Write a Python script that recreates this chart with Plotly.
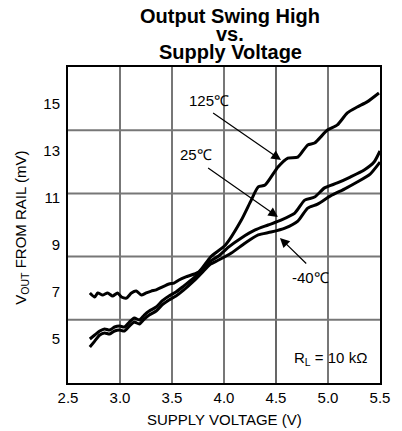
import plotly.graph_objects as go

# ---- data ----
v_125 = [2.71, 2.757, 2.786, 2.833, 2.881, 2.929, 2.976, 3.014, 3.062, 3.110, 3.157, 3.205, 3.252,
         3.300, 3.348, 3.405, 3.471, 3.519, 3.567, 3.633, 3.757, 3.871, 4.014, 4.167, 4.262, 4.329,
         4.395, 4.519, 4.614, 4.710, 4.805, 4.871, 4.995, 5.090, 5.186, 5.281, 5.376, 5.490]
mv_125 = [6.96, 6.79, 6.96, 6.87, 6.96, 6.83, 6.96, 6.79, 6.74, 6.96, 7.04, 6.87, 6.96,
          7.04, 7.09, 7.21, 7.34, 7.38, 7.51, 7.64, 7.85, 8.49, 9.00, 10.06, 10.91, 11.47,
          11.55, 12.32, 12.70, 12.74, 13.26, 13.34, 13.89, 14.11, 14.62, 14.87, 15.09, 15.47]

v_25 = [2.71, 2.757, 2.805, 2.852, 2.900, 2.948, 2.995, 3.043, 3.090, 3.138, 3.186, 3.233, 3.281,
        3.348, 3.405, 3.471, 3.538, 3.614, 3.710, 3.786, 3.871, 3.948, 4.043, 4.167, 4.300, 4.424,
        4.548, 4.681, 4.776, 4.871, 4.967, 5.090, 5.214, 5.348, 5.443, 5.500]
mv_25 = [5.00, 5.17, 5.34, 5.43, 5.38, 5.51, 5.55, 5.51, 5.72, 5.89, 5.81, 6.02, 6.19,
         6.36, 6.62, 6.83, 7.00, 7.26, 7.60, 7.94, 8.32, 8.53, 8.91, 9.30, 9.64, 9.85,
         10.06, 10.36, 10.91, 11.04, 11.43, 11.64, 11.89, 12.19, 12.53, 13.00]

v_m40 = [2.71, 2.757, 2.805, 2.852, 2.900, 2.948, 2.995, 3.043, 3.090, 3.138, 3.186, 3.233, 3.281,
         3.348, 3.405, 3.471, 3.538, 3.614, 3.710, 3.786, 3.871, 3.948, 4.071, 4.205, 4.329, 4.452,
         4.586, 4.710, 4.805, 4.900, 5.024, 5.157, 5.281, 5.405, 5.500]
mv_m40 = [4.66, 4.91, 5.17, 5.26, 5.21, 5.34, 5.38, 5.34, 5.55, 5.72, 5.64, 5.85, 6.02,
          6.19, 6.45, 6.66, 6.83, 7.09, 7.47, 7.81, 8.19, 8.36, 8.66, 9.09, 9.43, 9.55,
          9.72, 10.02, 10.57, 10.74, 11.09, 11.38, 11.68, 12.02, 12.53]

x_ticks = [2.5, 3.0, 3.5, 4.0, 4.5, 5.0, 5.5]
x_tick_text = ["2.5", "3.0", "3.5", "4.0", "4.5", "5.0", "5.5"]
y_ticks = [5, 7, 9, 11, 13, 15]
y_grid_fracs = [0.2, 0.4, 0.6, 0.8]

FONT = "Arial, Liberation Sans, Helvetica, sans-serif"

fig = go.Figure()
for xs, ys, nm in [(v_125, mv_125, "125"), (v_25, mv_25, "25"), (v_m40, mv_m40, "-40")]:
    fig.add_trace(go.Scatter(x=xs, y=ys, mode="lines", name=nm,
                             line=dict(color="black", width=3, shape="spline", smoothing=0.6),
                             showlegend=False, hoverinfo="skip"))

shapes = []
# vertical grid lines
for xv in x_ticks[1:-1]:
    if xv == 4.5:
        shapes.append(dict(type="line", xref="x", yref="y domain", x0=xv, x1=xv, y0=0, y1=1,
                           line=dict(color="black", width=1.2), layer="below"))
    else:
        shapes.append(dict(type="line", xref="x", yref="y domain", x0=xv, x1=xv, y0=0, y1=1,
                           line=dict(color="#777777", width=2), layer="below"))
# horizontal grid lines (evenly dividing the frame)
for f in y_grid_fracs:
    shapes.append(dict(type="line", xref="x domain", yref="y domain", x0=0, x1=1, y0=f, y1=f,
                       line=dict(color="#777777", width=2), layer="below"))

ann = []
title_lines = [("Output Swing High", 1.160), ("vs.", 1.106), ("Supply Voltage", 1.047)]
for t, yy in title_lines:
    ann.append(dict(text="<b>%s</b>" % t, xref="paper", yref="paper", x=0.52, y=yy,
                    xanchor="center", yanchor="middle", showarrow=False,
                    font=dict(family=FONT, size=20, color="black")))

# axis titles
ann.append(dict(text="SUPPLY VOLTAGE (V)", xref="paper", yref="paper", x=0.5, y=-0.114,
                xanchor="center", yanchor="middle", showarrow=False,
                font=dict(family=FONT, size=15, color="black")))
ann.append(dict(text="V<sub>OUT</sub> FROM RAIL (mV)", xref="paper", yref="paper", x=-0.149, y=0.49,
                xanchor="center", yanchor="middle", showarrow=False, textangle=-90,
                font=dict(family=FONT, size=15, color="black")))

# curve labels
lab_font = dict(family=FONT, size=15, color="black")
ann.append(dict(text="125℃", x=3.852, y=15.13, xref="x", yref="y", showarrow=False, font=lab_font))
ann.append(dict(text="25℃", x=3.729, y=12.83, xref="x", yref="y", showarrow=False, font=lab_font))
ann.append(dict(text="-40℃", x=4.833, y=7.60, xref="x", yref="y", showarrow=False, font=lab_font))
ann.append(dict(text="R<sub>L</sub> = 10 kΩ", x=5.395, y=4.15, xref="x", yref="y", xanchor="right",
                showarrow=False, font=lab_font))

# arrows (tail -> tip)
arrows = [((3.881, 14.66), (4.548, 12.62)),
          ((3.833, 12.32), (4.519, 10.19)),
          ((4.805, 8.15), (4.538, 9.30))]
for (tx, ty), (hx, hy) in arrows:
    ann.append(dict(text="", x=hx, y=hy, ax=tx, ay=ty, xref="x", yref="y", axref="x", ayref="y",
                    showarrow=True, arrowhead=2, arrowsize=1.6, arrowwidth=1.2, arrowcolor="black"))

fig.update_layout(
    width=402, height=431,
    margin=dict(l=68, r=18, t=67, b=48, pad=0),
    paper_bgcolor="white", plot_bgcolor="white",
    shapes=shapes, annotations=ann,
    font=dict(family=FONT, size=15, color="black"),
    xaxis=dict(range=[2.5, 5.5], tickvals=x_ticks, ticktext=x_tick_text, showgrid=False,
               zeroline=False, showline=True, linecolor="black", linewidth=2, mirror=True,
               ticks="", tickfont=dict(family=FONT, size=15, color="black")),
    yaxis=dict(range=[3.128, 16.574], tickvals=y_ticks, showgrid=False, zeroline=False,
               showline=True, linecolor="black", linewidth=2, mirror=True, ticks="",
               ticklabelstandoff=3, tickfont=dict(family=FONT, size=15, color="black")),
)

fig.write_html("out.html", config={"displayModeBar": False},
               post_script="document.body.style.margin='0';document.body.style.overflow='hidden';")
